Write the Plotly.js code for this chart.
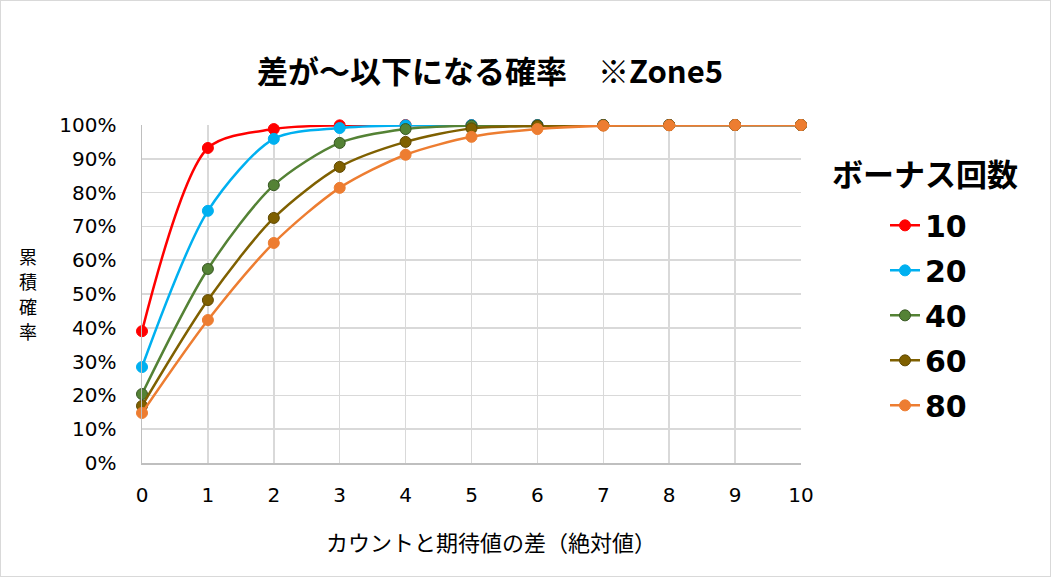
<!DOCTYPE html>
<html>
<head>
<meta charset="utf-8">
<script src="https://cdn.plot.ly/plotly-3.0.1.min.js"></script>
<style>
html,body{margin:0;padding:0;background:#fff;}
#wrap{position:relative;width:1051px;height:577px;}
#chart{width:1051px;height:577px;}
#frame{position:absolute;left:0;top:0;width:1051px;height:577px;box-sizing:border-box;border:1px solid #d9d9d9;pointer-events:none;}
</style>
</head>
<body>
<div id="wrap"><div id="chart"></div><div id="frame"></div></div>
<script>
const xValues = [0,1,2,3,4,5,6,7,8,9,10];
const seriesNames = ["10","20","40","60","80"];
const s10 = [0.39,0.932,0.988,0.999,1,1,1,1,1,1,1];
const s20 = [0.284,0.746,0.959,0.991,0.999,1,1,1,1,1,1];
const s40 = [0.204,0.574,0.822,0.947,0.988,0.998,0.999,1,1,1,1];
const s60 = [0.169,0.482,0.725,0.876,0.950,0.990,0.997,0.999,1,1,1];
const s80 = [0.148,0.423,0.651,0.814,0.912,0.965,0.988,0.998,0.999,1,1];
const yTickVals = [0,0.1,0.2,0.3,0.4,0.5,0.6,0.7,0.8,0.9,1];
const yTickText = ["0%","10%","20%","30%","40%","50%","60%","70%","80%","90%","100%"];
const titleText = "差が～以下になる確率　※Zone5";
const xTitle = "カウントと期待値の差（絶対値）";
const yTitleChars = ["累","積","確","率"];
const legendTitle = "ボーナス回数";

const colors = ["#FF0000","#00B0F0","#548235","#7F6000","#ED7D31"];
const edges = ["#FF0000","#00B0F0","#385723","#5F4800","#ED7D31"];
const allSeries = [s10,s20,s40,s60,s80];

const traces = allSeries.map((ys,i)=>({
  x: xValues, y: ys, name: seriesNames[i], type:"scatter", mode:"lines+markers",
  legendgroup: "g"+i,
  line:{color:colors[i], width:2.5, shape:"spline", smoothing:0.8},
  marker:{color:colors[i], size:11, line:{color:edges[i], width:1}},
  cliponaxis:false
}));

const px2x = p => (p-142)/659;
const px2y = p => (463-p)/338;

const annotations = [
  {text:"<b>"+titleText+"</b>", xref:"paper", yref:"paper", x:px2x(490), y:px2y(70),
   xanchor:"center", yanchor:"middle", showarrow:false,
   font:{family:"Noto Sans CJK JP, sans-serif", size:31, color:"#000"}},
  {text:xTitle, xref:"paper", yref:"paper", x:px2x(491), y:px2y(541),
   xanchor:"center", yanchor:"middle", showarrow:false,
   font:{family:"Noto Sans CJK JP, sans-serif", size:22, color:"#000"}},
  {text:"<b>"+legendTitle+"</b>", xref:"paper", yref:"paper", x:px2x(925), y:px2y(172),
   xanchor:"center", yanchor:"middle", showarrow:false,
   font:{family:"Noto Sans CJK JP, sans-serif", size:31, color:"#000"}}
];
yTitleChars.forEach((c,i)=>annotations.push({
  text:c, xref:"paper", yref:"paper", x:px2x(28), y:px2y(256+25*i),
  xanchor:"center", yanchor:"middle", showarrow:false, borderpad:0,
  font:{family:"Noto Sans CJK JP, sans-serif", size:18, color:"#000"}
}));

const layout = {
  width:1051, height:577,
  margin:{l:142, r:250, t:125, b:114},
  paper_bgcolor:"#fff", plot_bgcolor:"#fff",
  font:{family:"Noto Sans CJK JP, sans-serif", color:"#000"},
  showlegend:true,
  legend:{x:px2x(885), xanchor:"left", y:0.78, yanchor:"top",
    font:{family:"DejaVu Sans, sans-serif", size:30, color:"#000", weight:"bold"},
    tracegroupgap:3, traceorder:"grouped", bgcolor:"rgba(0,0,0,0)"},
  xaxis:{range:[0,10], tickvals:xValues, showgrid:true, gridcolor:"#d9d9d9", gridwidth:1.5,
    showline:true, linecolor:"#bfbfbf", linewidth:1.5, zeroline:false, ticks:"",
    ticklabelstandoff:13,
    tickfont:{family:"DejaVu Sans, sans-serif", size:20, color:"#000"}},
  yaxis:{range:[0,1], tickvals:yTickVals, ticktext:yTickText, showgrid:true, gridcolor:"#d9d9d9", gridwidth:1.5,
    showline:true, linecolor:"#bfbfbf", linewidth:1.5, zeroline:false, ticks:"",
    ticklabelstandoff:20,
    tickfont:{family:"DejaVu Sans, sans-serif", size:20, color:"#000"}},
  annotations: annotations
};
Plotly.newPlot("chart", traces, layout, {displayModeBar:false, staticPlot:true});
</script>
</body>
</html>
